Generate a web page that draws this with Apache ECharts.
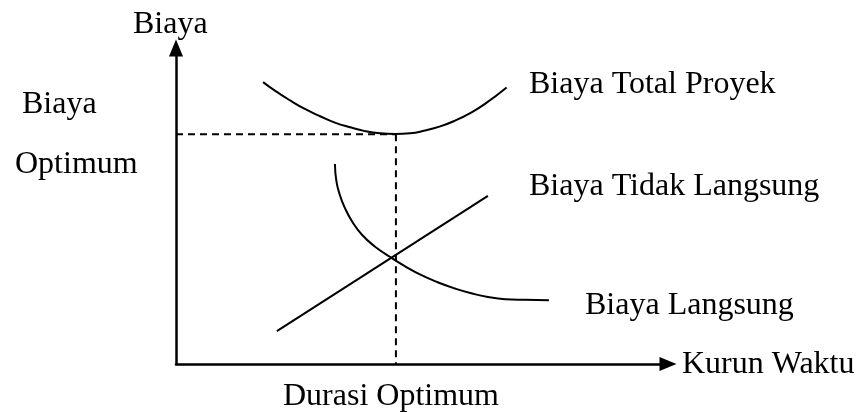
<!DOCTYPE html>
<html>
<head>
<meta charset="utf-8">
<script src="https://cdn.jsdelivr.net/npm/echarts@6/dist/echarts.min.js"></script>
<style>
  html, body { margin: 0; padding: 0; background: #fff; }
  #chart { width: 860px; height: 412px; }
</style>
</head>
<body>
<div id="chart"></div>
<script>
// Schematic values (arbitrary units; axes 0..100)
const totalCost = [
  [17.7, 89.2], [20.1, 86.5], [23.2, 83.4], [26.2, 80.7], [29.3, 78.4],
  [32.3, 76.4], [35.4, 74.9], [38.4, 73.7], [41.5, 73.0], [44.5, 72.8],
  [47.6, 73.0], [50.6, 73.9], [53.7, 75.2], [56.7, 77.0], [59.8, 79.4],
  [62.8, 82.3], [67.2, 87.5]
];
const directCost = [
  [32.3, 63.3], [32.6, 57.9], [33.3, 53.5], [34.3, 49.5], [35.8, 45.1],
  [37.8, 40.9], [40.4, 37.2], [43.7, 33.7], [46.5, 31.0], [49.9, 28.1],
  [53.3, 25.8], [56.7, 23.9], [60.2, 22.3], [63.4, 21.2], [66.9, 20.5],
  [70.9, 20.3], [75.8, 20.2]
];
const indirectCost = [[20.5, 10.4], [63.4, 53.2]];
const optimumDuration = 44.7;
const optimumCost = 72.7;

const axisX = 'Kurun Waktu';
const axisY = 'Biaya';
const seriesNames = ['Biaya Total Proyek', 'Biaya Tidak Langsung', 'Biaya Langsung'];
const optCostLabel = ['Biaya', 'Optimum'];
const optDurLabel = 'Durasi Optimum';

const FONT = '"Liberation Serif", "Times New Roman", serif';
const FS = 32;

function txt(text, x, y) {
  return {
    type: 'text', x: x, y: y, silent: true,
    style: { text: text, fill: '#000', font: FS + 'px ' + FONT, textAlign: 'left', textVerticalAlign: 'middle', verticalAlign: 'middle' }
  };
}

const chart = echarts.init(document.getElementById('chart'), null, { renderer: 'canvas' });
const axisCommon = {
  type: 'value', min: 0, max: 100,
  axisLine: { show: true, onZero: false, symbol: ['none', 'triangle'], symbolSize: [14, 17], lineStyle: { color: '#000', width: 2.5 } },
  axisTick: { show: false }, axisLabel: { show: false }, splitLine: { show: false }
};
const lineStyle = { color: '#000', width: 2 };
chart.setOption({
  animation: false,
  backgroundColor: '#fff',
  grid: { left: 176, top: 48, right: 192, bottom: 48 },
  xAxis: Object.assign({}, axisCommon),
  yAxis: Object.assign({}, axisCommon),
  series: [
    { name: 'opt-h', type: 'line', silent: true, showSymbol: false, z: 1,
      data: [[0, optimumCost], [optimumDuration, optimumCost]],
      lineStyle: { color: '#000', width: 2, type: [7, 5] } },
    { name: 'opt-v', type: 'line', silent: true, showSymbol: false, z: 1,
      data: [[optimumDuration, optimumCost], [optimumDuration, 0]],
      lineStyle: { color: '#000', width: 2, type: [7, 5] } },
    { name: seriesNames[0], type: 'line', silent: true, showSymbol: false, smooth: 0.5, data: totalCost, lineStyle: lineStyle, z: 3 },
    { name: seriesNames[1], type: 'line', silent: true, showSymbol: false, data: indirectCost, lineStyle: lineStyle, z: 3 },
    { name: seriesNames[2], type: 'line', silent: true, showSymbol: false, smooth: 0.5, data: directCost, lineStyle: lineStyle, z: 3 }
  ],
  graphic: [
    txt(axisY, 133, 25),
    txt(axisX, 682, 365),
    txt(optCostLabel[0], 22, 105),
    txt(optCostLabel[1], 15, 165),
    txt(seriesNames[0], 529, 85),
    txt(seriesNames[1], 529, 187),
    txt(seriesNames[2], 585, 306),
    txt(optDurLabel, 283, 397)
  ]
});
</script>
</body>
</html>
